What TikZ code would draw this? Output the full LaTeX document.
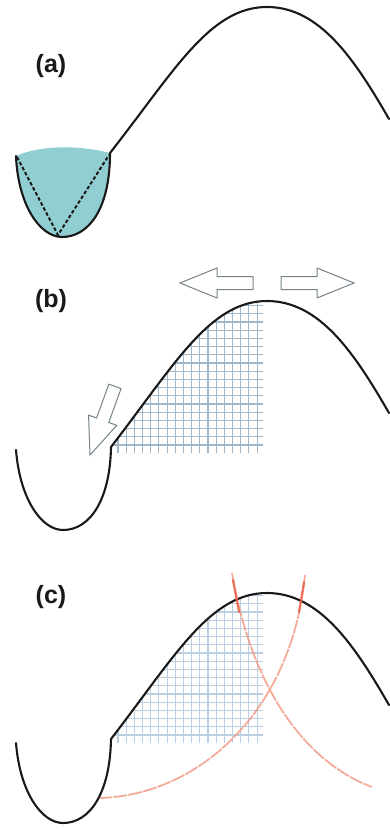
\documentclass[tikz,border=0pt]{standalone}
\usepackage{fontspec}
\setmainfont{Liberation Sans}
\definecolor{wellfill}{RGB}{145,206,209}
\definecolor{gridb}{RGB}{160,184,202}
\definecolor{gridc}{RGB}{188,207,224}
\definecolor{arrowgray}{RGB}{118,132,138}
\definecolor{salmon}{RGB}{243,150,128}
\definecolor{redmark}{RGB}{232,78,52}
\definecolor{ink}{RGB}{25,25,25}
\begin{document}
\begin{tikzpicture}[x=1pt,y=-1pt,
  curve/.style={line width=2.1pt, draw=ink, line cap=round, line join=round},
  lbl/.style={font=\fontsize{25}{28}\selectfont\bfseries, text=ink, inner sep=0pt},
  gridline/.style={line width=1.1pt},
  blockarrow/.style={draw=arrowgray, fill=white, line width=1pt, line join=miter},
  arc/.style={draw=salmon, line width=1.8pt, opacity=0.8, dash pattern=on 14pt off 1.2pt},
  redtick/.style={draw=redmark, line width=2.2pt, opacity=0.7, line cap=round}]
\useasboundingbox (0,0) rectangle (389,829);

% ---------- panel (a) ----------
\node[lbl] (la) at (51,66) {(a)};
\fill[wellfill] (16,156) .. controls (18,205) and (40,237) .. (62,237)
  .. controls (88,237) and (110,210) .. (110,153)
  .. controls (80,145) and (40,145) .. (16,156) -- cycle;
\draw[ink, line width=2pt, dash pattern=on 3.5pt off 2.2pt] (17,157) -- (58,235) -- (109,155);
\draw[curve] (16,156) .. controls (18,205) and (40,237) .. (62,237)
  .. controls (88,237) and (110,210) .. (110,153)
  .. controls (175,70) and (210,7) .. (267,7)
  .. controls (320,7) and (355,60) .. (389,119);

% ---------- panel (b) ----------
\node[lbl] (lb) at (51,301) {(b)};
\begin{scope}[yshift=-294pt]
  \begin{scope}
    \clip (111,153) .. controls (175,70) and (210,7) .. (267,7) -- (270,7) -- (270,165) -- (111,165) -- cycle;
    \foreach \i in {0,...,17} \draw[gridline, gridb] ({118+\i*8.18},159) -- ({118+\i*8.18},0);
    \foreach \j in {0,...,18} \draw[gridline, gridb] (105,{151-\j*8.2}) -- (263,{151-\j*8.2});
  \end{scope}
  \draw[curve] (16,156) .. controls (20,206) and (42,236) .. (63,236)
    .. controls (90,236) and (110,206) .. (111,153)
    .. controls (175,70) and (210,7) .. (267,7)
    .. controls (320,7) and (355,60) .. (389,119);
\end{scope}
% open block arrows
\begin{scope}[shift={(180,283)}, rotate=180]
  \draw[blockarrow] (0,0) -- (-37,15) -- (-37,6.5) -- (-73,6.5) -- (-73,-6.5) -- (-37,-6.5) -- (-37,-15) -- cycle;
\end{scope}
\begin{scope}[shift={(354,283)}]
  \draw[blockarrow] (0,0) -- (-37,15) -- (-37,6.5) -- (-73,6.5) -- (-73,-6.5) -- (-37,-6.5) -- (-37,-15) -- cycle;
\end{scope}
\begin{scope}[shift={(90,455)}, rotate=250]
  \draw[blockarrow] (0,0) -- (-37,15) -- (-37,6.5) -- (-73,6.5) -- (-73,-6.5) -- (-37,-6.5) -- (-37,-15) -- cycle;
\end{scope}

% ---------- panel (c) ----------
\node[lbl] (lc) at (51,597) {(c)};
\begin{scope}[yshift=-586pt]
  \begin{scope}
    \clip (111,153) .. controls (175,70) and (210,7) .. (267,7) -- (270,7) -- (270,165) -- (111,165) -- cycle;
    \foreach \i in {0,...,17} \draw[gridline, gridc] ({118+\i*8.18},157) -- ({118+\i*8.18},0);
    \foreach \j in {0,...,18} \draw[gridline, gridc] (105,{149-\j*8.2}) -- (263,{149-\j*8.2});
  \end{scope}
  \draw[curve] (16,157) .. controls (20,207) and (42,237) .. (63,237)
    .. controls (90,237) and (110,207) .. (111,153)
    .. controls (175,70) and (210,7) .. (267,7)
    .. controls (320,7) and (355,60) .. (389,119);
\end{scope}
% red arcs
\draw[arc] (232,573) .. controls (250,680) and (300,760) .. (372,787);
\draw[arc] (305,575) .. controls (292,710) and (200,795) .. (100,798);
\draw[redtick] (233,580) -- (239,612);
\draw[redtick] (304,582) -- (299,612);
\end{tikzpicture}
\end{document}
